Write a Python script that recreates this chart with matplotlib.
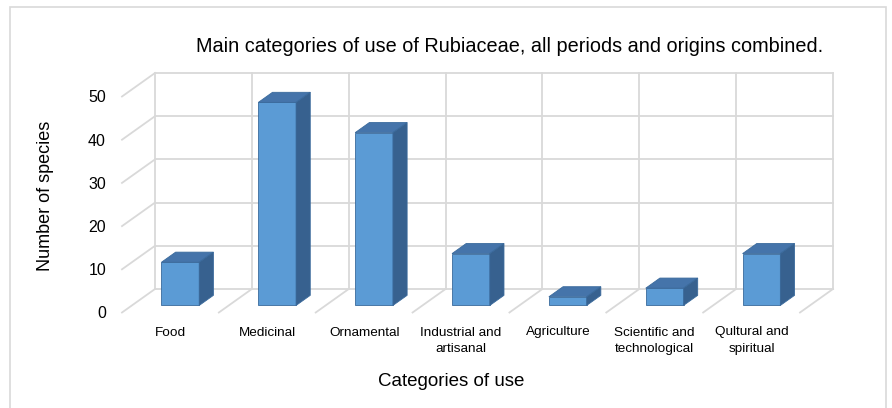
import matplotlib
matplotlib.use("Agg")
import matplotlib.pyplot as plt
from matplotlib.patches import Polygon, Rectangle

categories = ["Food", "Medicinal", "Ornamental", "Industrial and\nartisanal",
              "Agriculture", "Scientific and\ntechnological", "Qultural and\nspiritual"]
values = [10, 47, 40, 12, 2, 4, 12]
yticks = [0, 10, 20, 30, 40, 50]
title = "Main categories of use of Rubiaceae, all periods and origins combined."
xlabel = "Categories of use"
ylabel = "Number of species"

W, H = 892, 408
fig = plt.figure(figsize=(W / 100, H / 100), dpi=100)
fig.patch.set_facecolor("white")

# back wall of the pseudo-3D box, in pixels
bx0, bx1, by_top, by_bot = 155, 833, 73, 289
ax = fig.add_axes([bx0 / W, (H - by_bot) / H, (bx1 - bx0) / W, (by_bot - by_top) / H])
ax.set_xlim(0, len(categories))
ax.set_ylim(0, 50)
ax.axis("off")

px_x = (bx1 - bx0) / len(categories)   # pixels per category
px_y = (by_bot - by_top) / 50.0        # pixels per unit
dxf = -33 / px_x                        # depth offset (back -> front)
dyf = -23.5 / px_y

grid_c = "#d9d9d9"
glw = 1.3
n = len(categories)
# back wall, left wall and floor lines
for y in yticks:
    ax.plot([0, n], [y, y], color=grid_c, lw=glw, clip_on=False, zorder=1)
    ax.plot([0, dxf], [y, y + dyf], color=grid_c, lw=glw, clip_on=False, zorder=1)
for x in range(n + 1):
    ax.plot([x, x], [0, 50], color=grid_c, lw=glw, clip_on=False, zorder=1)
    if x > 0:
        ax.plot([x, x + dxf], [0, dyf], color=grid_c, lw=glw, clip_on=False, zorder=1)

# bars
bw = 0.39
t0, t1 = 0.27, 0.70   # depth fractions of bar back / front faces
c_front, c_top, c_side, c_edge = "#5B9BD5", "#4574AA", "#37618F", "#3A6A9C"
for i, v in enumerate(values):
    cx = i + 0.5
    xl, xr = cx - bw / 2, cx + bw / 2
    ax.bar(cx + t1 * dxf, v, width=bw, bottom=t1 * dyf, color=c_front,
           edgecolor=c_edge, linewidth=0.6, clip_on=False, zorder=3)
    top = [(xl + t1 * dxf, v + t1 * dyf), (xr + t1 * dxf, v + t1 * dyf),
           (xr + t0 * dxf, v + t0 * dyf), (xl + t0 * dxf, v + t0 * dyf)]
    side = [(xr + t1 * dxf, t1 * dyf), (xr + t1 * dxf, v + t1 * dyf),
            (xr + t0 * dxf, v + t0 * dyf), (xr + t0 * dxf, t0 * dyf)]
    ax.add_patch(Polygon(top, closed=True, facecolor=c_top, edgecolor=c_edge,
                         lw=0.6, clip_on=False, zorder=3))
    ax.add_patch(Polygon(side, closed=True, facecolor=c_side, edgecolor=c_edge,
                         lw=0.6, clip_on=False, zorder=3))

# tick labels (front plane)
for y in yticks:
    ax.text(dxf - 16 / px_x, y + dyf - 1.5 / px_y, str(y), ha="right", va="center",
            fontsize=11.5, family="Liberation Sans", color="#000000")
for i, lab in enumerate(categories):
    ax.text(i + 0.5 + dxf, dyf - 14 / px_y, lab, ha="center", va="top",
            fontsize=9.7, family=["Liberation Sans Narrow", "Liberation Sans"],
            linespacing=1.45, color="#000000")

fig.text(510 / W, 1 - 46 / H, title, ha="center", va="center",
         fontsize=14.3, family="Liberation Sans")
fig.text(451 / W, 1 - 382 / H, xlabel, ha="center", va="center",
         fontsize=13.5, family="Liberation Sans")
fig.text(46 / W, 1 - 196 / H, ylabel, ha="center", va="center", rotation=90,
         fontsize=13, family="Liberation Sans")

# outer chart border
fig.add_artist(Rectangle((10 / W, -0.05), (886 - 10) / W, 1.05 - 7 / H,
                         transform=fig.transFigure, fill=False,
                         edgecolor="#d9d9d9", lw=1.2))

fig.savefig("out.png", dpi=100, facecolor="white")
